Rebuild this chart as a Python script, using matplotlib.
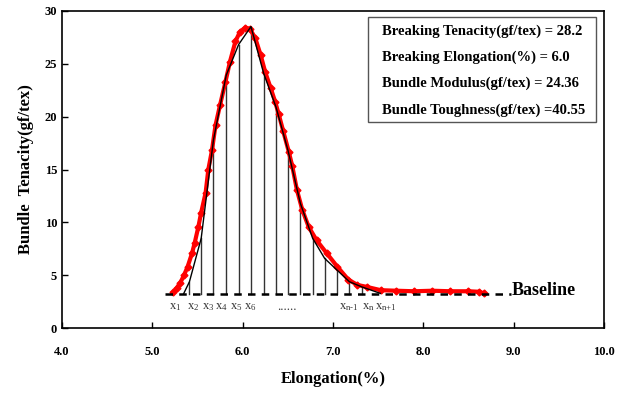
import numpy as np
import matplotlib.pyplot as plt
from matplotlib.patches import Rectangle

# red measured curve (elongation %, tenacity gf/tex)
curve_x = [5.23, 5.27, 5.31, 5.35, 5.39, 5.44, 5.47, 5.51, 5.54, 5.59, 5.62, 5.66,
           5.70, 5.75, 5.81, 5.86, 5.92, 5.97, 6.03, 6.08, 6.14, 6.20, 6.25, 6.31,
           6.36, 6.40, 6.45, 6.51, 6.55, 6.60, 6.66, 6.73, 6.82, 6.93, 7.05, 7.17,
           7.27, 7.38, 7.53, 7.70, 7.90, 8.10, 8.30, 8.50, 8.62, 8.67]
curve_y = [3.4, 3.8, 4.3, 5.0, 5.8, 7.1, 8.1, 9.6, 10.9, 12.8, 15.0, 16.8,
           19.2, 21.1, 23.3, 25.2, 27.1, 28.0, 28.4, 28.3, 27.4, 25.8, 24.2, 22.7,
           21.4, 20.2, 18.6, 16.7, 15.3, 13.1, 11.2, 9.6, 8.3, 7.1, 5.8, 4.6,
           4.1, 3.9, 3.6, 3.55, 3.5, 3.55, 3.5, 3.5, 3.45, 3.3]

# trapezoid approximation (black polyline through x1..xn+1)
trap_x = [5.345, 5.411, 5.541, 5.677, 5.818, 5.955, 6.092, 6.232, 6.369, 6.502,
          6.639, 6.775, 6.908, 7.045, 7.182, 7.323, 7.525]
trap_y = [3.24, 4.4, 8.5, 17.8, 23.9, 26.8, 28.5, 24.1, 20.9, 16.8,
          11.8, 8.5, 6.6, 5.5, 4.4, 3.9, 3.3]

baseline_y = 3.24
baseline_x = [5.14, 8.97]

node_labels = ['x$_1$', 'x$_2$', 'x$_3$', 'x$_4$', 'x$_5$', 'x$_6$', '......',
               r'x$_{n\text{-}1}$', 'x$_n$', r'x$_{n\text{+}1}$']
node_label_x = [5.25, 5.45, 5.62, 5.76, 5.93, 6.08, 6.49, 7.17, 7.39, 7.58]

info_lines = ['Breaking Tenacity(gf/tex) = 28.2',
              'Breaking Elongation(%) = 6.0',
              'Bundle Modulus(gf/tex) = 24.36',
              'Bundle Toughness(gf/tex) =40.55']

plt.rcParams['font.family'] = ['Liberation Serif', 'DejaVu Serif']
plt.rcParams['mathtext.fontset'] = 'custom'
plt.rcParams['mathtext.rm'] = 'Liberation Serif'
plt.rcParams['mathtext.it'] = 'Liberation Serif'

fig = plt.figure(figsize=(6.18, 3.98), dpi=100)
ax = fig.add_axes([0.1003, 0.1751, 0.877, 0.798])

# vertical strips of the trapezoid rule
for xv, yv in zip(trap_x[1:-1], trap_y[1:-1]):
    ax.plot([xv, xv], [baseline_y, yv], color='#333333', linewidth=1.0, zorder=2)

ax.plot(curve_x, curve_y, color='red', linewidth=3, marker='D', markersize=3.5,
        zorder=3)
ax.plot(trap_x, trap_y, color='black', linewidth=1.0, zorder=4)

ax.plot(baseline_x, [baseline_y, baseline_y], color='black', linewidth=1.8,
        linestyle=(0, (3, 2.5)), zorder=4)
ax.text(8.98, 3.6, 'Baseline', fontsize=13, fontweight='bold',
        va='center', ha='left')

for lab, xv in zip(node_labels, node_label_x):
    ax.text(xv, 2.0, lab, fontsize=9, color='#333333', ha='center', va='center')

# info box
ax.add_patch(Rectangle((0.5646, 0.650), 0.4204, 0.330, transform=ax.transAxes,
                       facecolor='white', edgecolor='#555555', linewidth=1.0,
                       zorder=5))
for i, line in enumerate(info_lines):
    ax.text(0.590, 0.936 - i * 0.0828, line, transform=ax.transAxes,
            fontsize=10.5, fontweight='bold', va='center', ha='left', zorder=6)

ax.set_xlim(4.0, 10.0)
ax.set_ylim(0, 30)
ax.set_xticks(np.arange(4.0, 10.01, 1.0))
ax.set_xticklabels(['%.1f' % v for v in np.arange(4.0, 10.01, 1.0)])
ax.set_yticks(range(0, 31, 5))
ax.tick_params(direction='in', length=4, width=1, labelsize=9)
ax.tick_params(axis='x', pad=13)
for lab in ax.get_xticklabels() + ax.get_yticklabels():
    lab.set_fontweight('bold')
for sp in ax.spines.values():
    sp.set_linewidth(1.2)

ax.set_xlabel('Elongation(%)', fontsize=12, fontweight='bold', labelpad=9)
ax.set_ylabel('Bundle  Tenacity(gf/tex)', fontsize=12, fontweight='bold',
              labelpad=8)

fig.savefig('out.png', dpi=100)
